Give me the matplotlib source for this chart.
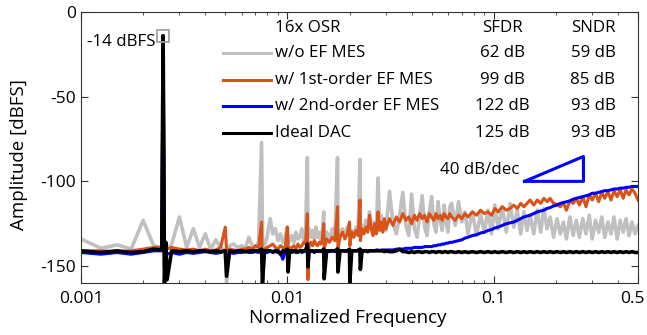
import matplotlib
matplotlib.use("Agg")
import matplotlib.pyplot as plt
import matplotlib.transforms as mtransforms
import numpy as np

plt.rcParams['font.family'] = ['Open Sans', 'DejaVu Sans']
plt.rcParams['axes.unicode_minus'] = False

# FFT bin index (bin / 4000 = normalized frequency); fundamental at bin 10
bins = [4, 5, 6, 7, 8, 9, 9.85, 9.95, 10, 10.05, 10.15, 10.3, 10.45,
        11, 12, 13, 14, 15, 16, 17, 18, 19, 20, 20.3,
        21, 22, 23, 24, 25, 26, 27, 28, 29, 30, 30.3,
        31, 32, 33, 34, 35, 36, 37, 38, 39, 40, 40.3,
        41, 42, 43, 44, 45, 46, 47, 48, 49, 50, 50.3,
        51, 52, 53, 54, 55, 56, 57, 58, 59, 60, 60.3,
        62, 64, 66, 68, 70, 70.3, 72, 74, 76, 78, 80, 80.3,
        82, 84, 86, 88, 90, 90.3, 92, 94, 96, 98, 100,
        102, 104, 106, 108, 110, 112, 114, 116, 118, 120,
        125, 130, 135, 140, 145, 150, 155, 160, 165, 170,
        175, 180, 185, 190, 195, 200, 205, 210, 215, 220,
        225, 230, 235, 240, 245,
        250, 260, 270, 280, 290, 300, 315, 330, 345, 360,
        375, 390, 405, 420, 440, 460, 480, 500, 520, 540,
        560, 580, 600, 625, 650, 675, 700, 725, 750, 780,
        810, 840, 870, 900, 935, 970, 1005, 1040, 1080, 1120,
        1160, 1200, 1245, 1290, 1335, 1380, 1430, 1480, 1530, 1585,
        1640, 1695, 1750, 1810, 1870, 1935, 2000]

# w/o EF MES
gray_db = [-134, -139.5, -137.5, -140, -123, -138, -139, -60, -14, -60, -150, -138, -140,
           -137, -121, -139, -128, -139, -131, -140, -134.5, -139, -141, -160,
           -138, -137, -139, -138, -139.5, -133, -138, -139, -136, -77, -135,
           -138, -132, -122, -131, -128, -135, -131, -136, -133, -127, -137,
           -135, -132, -136, -130, -134, -133, -128, -135, -131, -86, -132,
           -128, -133, -129, -134, -127, -133, -130, -135, -131, -118, -136,
           -130, -135, -128, -133, -86, -134, -130, -128, -133, -127, -126, -132,
           -129, -132, -127, -131, -87, -128, -126, -130, -123, -129, -118,
           -126, -131, -124, -130, -98, -127, -120, -128, -124, -129,
           -106, -125, -131, -120, -106.5, -126, -132, -107.5, -128, -133,
           -120, -108.5, -127, -132, -118, -109, -125, -130, -112, -123,
           -129, -114, -124, -130, -115,
           -113, -126, -112, -124, -118, -131, -118, -132, -119, -130,
           -117, -131, -114, -128, -115, -130, -113, -127, -117, -131,
           -118, -129, -120, -131, -117, -130, -116, -128, -121, -133,
           -122, -131, -124, -134, -121, -132, -123, -133, -122, -131,
           -120, -134, -123, -130, -121, -133, -124, -131, -121, -134,
           -123, -130, -122, -132, -124, -131, -126]

# w/ 1st-order EF MES
orange_db = [-141, -141, -141.5, -141, -140, -139, -139, -60, -14, -60, -152, -137, -140,
             -139, -140, -140.5, -140, -141, -140, -141, -140.5, -139, -127, -141,
             -140, -140.5, -141, -140, -140, -139, -140, -138, -139, -124, -160,
             -140, -139, -138, -137, -139, -140, -138, -139, -140, -127, -138,
             -140, -139, -138, -140, -137, -139, -138, -136, -137, -119, -158,
             -138, -136, -138, -135, -137, -138, -136, -137, -135, -125, -140,
             -134, -136, -133, -135, -115, -140, -133, -130, -134, -131, -124, -138,
             -130, -133, -129, -132, -111, -135, -128, -131, -127, -130, -120,
             -128, -132, -125, -131, -118, -129, -124, -130, -122, -128,
             -122, -126, -121, -124, -119, -123, -121, -125, -120, -123,
             -119, -122, -120, -124, -119, -121, -123, -119, -122, -120,
             -123, -119, -121, -122, -119,
             -121, -123, -120, -122, -119, -121, -118, -120, -117, -119,
             -118, -120, -116, -118, -115, -117, -116, -114, -116, -113,
             -115, -113, -111, -114, -111, -113, -110, -112, -110, -113,
             -113.5, -115, -112.5, -117, -111.5, -113, -110, -114, -109, -115,
             -108, -111, -107, -112, -106.5, -110, -106, -111, -105.5, -109,
             -105, -110, -105, -108, -104.5, -107, -111]

# w/ 2nd-order EF MES
blue_db = [-142, -143, -142, -143, -142, -141, -141, -60, -14, -60, -155, -140, -143,
           -142, -143, -142, -142.5, -142, -141.5, -142, -142.5, -142, -141, -150,
           -142, -142.5, -142, -142, -141.5, -142, -142, -141.5, -142, -141, -148,
           -142, -142, -141, -142, -141.5, -142, -142, -146, -142, -141, -144,
           -142, -142, -141.5, -142, -142, -141, -142, -141.5, -141, -137, -144,
           -141, -141.5, -141, -142, -141, -141.5, -141, -141.5, -141, -141, -143,
           -141, -141.5, -141, -141.5, -140, -142, -141, -141, -141.5, -141, -141, -144,
           -141, -141, -141, -140.5, -140, -148, -141, -141, -141, -141, -141,
           -141, -141, -141, -140.5, -140.5, -141, -140.5, -140.5, -140.5, -140.5,
           -140.5, -140.5, -140, -140, -140, -139.5, -139.5, -139.5, -139, -139,
           -139, -139, -138.5, -138.5, -138.5, -138.5, -138, -138, -137.5, -137.5,
           -137, -137, -136.5, -136.5, -136,
           -136, -135.5, -135, -134.5, -133.5, -133, -132, -131.5, -130.5, -130,
           -129, -128.5, -127.5, -127, -126, -125, -124.5, -124, -123, -122,
           -121, -120.5, -120, -119, -118, -117.5, -117, -116, -115.5, -114.5,
           -114, -113, -112.5, -112, -111.5, -110.5, -110, -109.5, -109, -108.5,
           -108, -107, -107, -106.5, -106, -105.5, -105.5, -105, -104.5, -104.5,
           -104, -104, -103.5, -103.5, -103, -103, -103]

# Ideal DAC
black_db = [-141, -142, -141, -142, -141.5, -140, -140.5, -60, -14, -60, -160, -136, -158,
            -141, -141.5, -141, -141.5, -141, -141, -141.5, -141, -141.5, -141, -156,
            -141, -141.5, -141, -141, -141.5, -141, -141, -141, -141, -140, -160,
            -141, -141, -141, -141.5, -141, -141, -143, -141, -141, -140, -153.5,
            -141, -141, -141, -141, -141.5, -141, -141, -141, -141, -137, -150.5,
            -141, -141, -141, -141.5, -141, -141, -141, -141, -141, -140, -157.5,
            -141, -141, -141, -141, -140, -153.5, -141, -141, -141, -141, -140, -160,
            -141, -141, -141, -141, -140, -152, -141, -141, -141, -141.5, -141,
            -141, -141, -141, -141, -141, -141, -141, -141, -141.5, -141,
            -141.5, -141.5, -141, -140, -141.5, -141.5, -142, -141.5, -142, -141.5,
            -141.5, -142, -141.5, -141.5, -142, -141.5, -141.5, -142, -141.5, -141.5,
            -142, -141.5, -141.5, -142, -141.5,
            -141.5, -142, -141.5, -142, -141.5, -142, -141.5, -142, -141.5, -142,
            -141.5, -142, -141.5, -142, -141.5, -142, -141.5, -142, -141.5, -142,
            -141.5, -142, -141.5, -142, -141.5, -142, -141.5, -142, -141.5, -142,
            -141.5, -142, -141.5, -142, -141.5, -142, -141.5, -142, -141.5, -142,
            -141.5, -142, -141.5, -142, -141.5, -142, -141.5, -142, -141.5, -142,
            -141.5, -142, -141.5, -142, -141.5, -142, -142]

legend_names = ["w/o EF MES", "w/ 1st-order EF MES", "w/ 2nd-order EF MES", "Ideal DAC"]
sfdr_text = ["62 dB", "99 dB", "122 dB", "125 dB"]
sndr_text = ["59 dB", "85 dB", "93 dB", "93 dB"]

colors = ["#c0c0c0", "#d95319", "#0000ff", "#000000"]
widths = [2.6, 2.2, 2.2, 2.6]

freq = np.array(bins) / 4000.0

fig = plt.figure(figsize=(6.47, 3.35), dpi=100)
ax = fig.add_axes([81 / 647, 52 / 335, 557 / 647, 271 / 335])

for ys, c, lw in zip([gray_db, orange_db, blue_db, black_db], colors, widths):
    ax.plot(freq, ys, color=c, lw=lw)

# peak marker
ax.plot([0.0025], [-14], "s", mfc="none", mec="#a0a0a0", ms=8, mew=1.3)
ax.text(0.00229, -18, "-14 dBFS", ha="right", va="center", fontsize=12.2)

# 40 dB/dec slope triangle
ax.plot([0.141, 0.272, 0.272, 0.141], [-100, -100, -85.3, -100], color="#0000ff", lw=2.2)
ax.text(0.1336, -93, "40 dB/dec", ha="right", va="center", fontsize=12.2)

ax.set_xscale("log")
ax.set_xlim(0.001, 0.5)
ax.set_ylim(-160, 0)
ax.set_xticks([0.001, 0.01, 0.1, 0.5])
ax.set_xticklabels(["0.001", "0.01", "0.1", "0.5"])
ax.set_yticks([0, -50, -100, -150])
ax.tick_params(which="both", direction="in", top=True, right=True,
               labelsize=12.5, color="#333333")
ax.tick_params(which="major", length=5)
ax.tick_params(which="minor", length=2.5)
ax.tick_params(axis="x", pad=6)
for s in ax.spines.values():
    s.set_color("#333333")

# keep "0.5" inside the figure
last = ax.get_xticklabels()[-1]
last.set_transform(last.get_transform() +
                   mtransforms.ScaledTranslation(-4 / 72, 0, fig.dpi_scale_trans))

ax.set_xlabel("Normalized Frequency", fontsize=13.5)
ax.set_ylabel("Amplitude [dBFS]", fontsize=13.5)
ax.xaxis.set_label_coords((348 - 81) / 557, (283 - 309) / 271)
ax.yaxis.set_label_coords((28 - 81) / 557, (283 - 155) / 271)

# table-style legend (pixel positions in the 647x335 image)
def axpos(px, py):
    return (px - 81) / 557, (283 - py) / 271

fs = 12.2
rows = [53, 80, 106, 133]
x, y = axpos(275, 28)
ax.text(x, y, "16x OSR", transform=ax.transAxes, ha="left", va="center", fontsize=fs)
x, y = axpos(502, 28)
ax.text(x, y, "SFDR", transform=ax.transAxes, ha="center", va="center", fontsize=fs)
x, y = axpos(593, 28)
ax.text(x, y, "SNDR", transform=ax.transAxes, ha="center", va="center", fontsize=fs)
for name, c, r, s1, s2 in zip(legend_names, colors, rows, sfdr_text, sndr_text):
    x0, y0 = axpos(223, r)
    x1, _ = axpos(271, r)
    ax.plot([x0, x1], [y0, y0], color=c, lw=2.2, transform=ax.transAxes)
    x, y = axpos(275, r)
    ax.text(x, y, name, transform=ax.transAxes, ha="left", va="center", fontsize=fs)
    x, y = axpos(502, r)
    ax.text(x, y, s1, transform=ax.transAxes, ha="center", va="center", fontsize=fs)
    x, y = axpos(593, r)
    ax.text(x, y, s2, transform=ax.transAxes, ha="center", va="center", fontsize=fs)

fig.savefig("out.png", dpi=100)
print("saved out.png")
